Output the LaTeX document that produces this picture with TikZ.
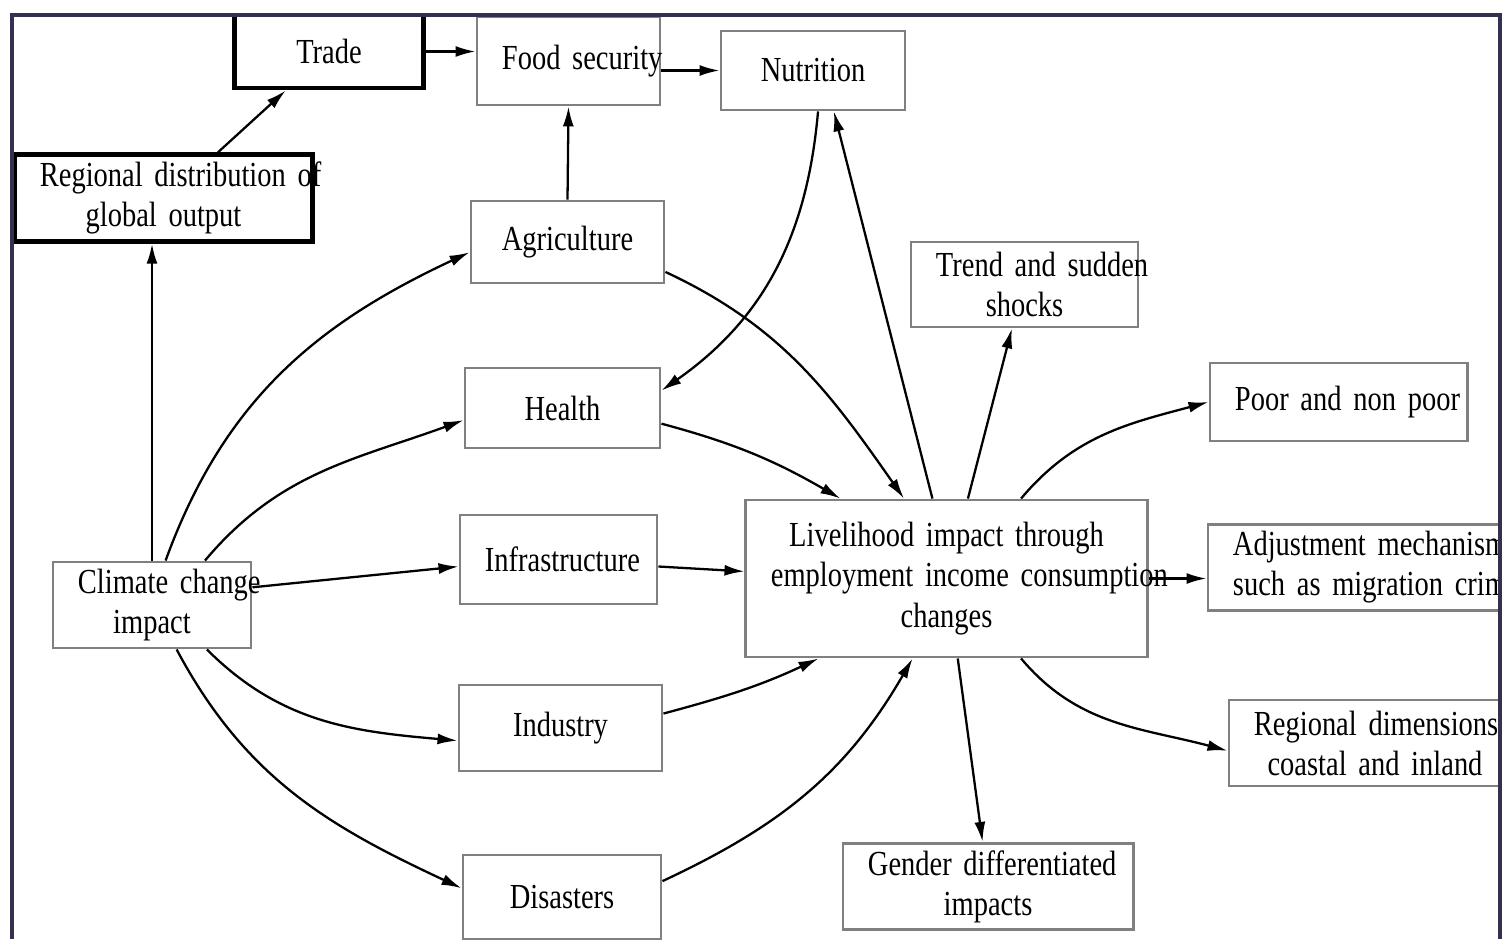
\documentclass[tikz,border=0pt]{standalone}
\usepackage{fontspec}
\setmainfont{Liberation Serif}[FakeStretch=0.81,WordSpace=0.8]
\usepackage{tikz}
\usetikzlibrary{arrows.meta}
\definecolor{boxgray}{RGB}{128,128,128}
\definecolor{framenavy}{RGB}{50,50,80}

\begin{document}
\begin{tikzpicture}[x=0.01cm,y=0.01cm,>={Latex[length=2mm,width=1.1mm]},
  box/.style={draw=boxgray,line width=0.8pt,fill=white,inner xsep=0.25cm,inner ysep=2pt,align=center,font=\fontsize{10}{11.4}\selectfont},
  boldbox/.style={box,draw=black,line width=1.4pt},
  link/.style={->,line width=0.65pt}]
\useasboundingbox (0,0) rectangle (1504,-939);
\begin{scope}
\clip (12,-15) rectangle (1500,-939);
\node[boldbox,text width=1.38cm,minimum height=0.73cm] (trade) at (329,-51.5) {Trade};
\node[box,text width=1.33cm,minimum height=0.88cm] (food) at (568.5,-61) {\mbox{Food security}};
\node[box,text width=1.34cm,minimum height=0.79cm] (nutri) at (813,-70.5) {Nutrition};
\node[boldbox,text width=2.47cm,minimum height=0.86cm] (regdist) at (163.5,-198) {\mbox{Regional distribution of}\\global output};
\node[box,text width=1.43cm,minimum height=0.82cm] (agri) at (567.5,-242) {Agriculture};
\node[box,text width=1.45cm,minimum height=0.80cm] (health) at (562.5,-408) {Health};
\node[box,text width=1.47cm,minimum height=0.89cm] (infra) at (558.5,-559.5) {\mbox{Infrastructure}};
\node[box,text width=1.53cm,minimum height=0.86cm] (indus) at (560.5,-728) {Industry};
\node[box,text width=1.48cm,minimum height=0.84cm] (disas) at (562,-897) {Disasters};
\node[box,text width=1.48cm,minimum height=0.86cm] (clim) at (152,-605) {\mbox{Climate change}\\impact};
\node[box,text width=3.51cm,minimum height=1.57cm] (live) at (946.5,-578.5) {Livelihood impact through\\\mbox{employment income consumption}\\changes};
\node[box,text width=1.77cm,minimum height=0.85cm] (trend) at (1024.5,-284.5) {\mbox{Trend and sudden}\\shocks};
\node[box,text width=2.07cm,minimum height=0.78cm] (poor) at (1338.5,-402) {\mbox{Poor and non poor}};
\node[box,text width=2.42cm,minimum height=0.85cm] (adjust) at (1354,-567.5) {\mbox{Adjustment mechanisms}\\\mbox{such as migration crime}};
\node[box,text width=2.42cm,minimum height=0.86cm] (regdim) at (1375,-743) {\mbox{Regional dimensions}\\coastal and inland};
\node[box,text width=2.40cm,minimum height=0.83cm] (gender) at (988,-886.5) {\mbox{Gender differentiated}\\impacts};

\draw[link] (clim.north) -- (clim.north |- regdist.south);
\draw[link] (regdist.40) -- (trade.222);
\draw[link] (trade.east) -- (trade.east -| food.west);
\draw[link] (nutri.west -| food.east) -- (nutri.west);
\draw[link] (agri.north) -- (food.south);
\draw[link] (clim.73) to[out=70,in=205] (agri.186);
\draw[link] (clim.40) to[out=50,in=200] (health.187);
\draw[link] (clim.10) -- (infra.184);
\draw[link] (clim.-39) to[out=-45,in=175] (indus.187);
\draw[link] (clim.-61) to[out=-62,in=155] (disas.175);
\draw[link] (agri.-17) to[out=-25,in=125] (live.118);
\draw[link] (health.-9) to[out=-15,in=150] (live.143);
\draw[link] (infra.-4) -- (live.178);
\draw[link] (indus.8) to[out=15,in=205] (live.212);
\draw[link] (disas.9) to[out=25,in=240] (live.247);
\draw[link] (nutri.-83) to[out=-95,in=35] (health.10);
\draw[link] (live.100) -- (nutri.-63);
\draw[link] (live.75) -- (trend.254);
\draw[link] (live.47) to[out=50,in=195] (poor.west);
\draw[link] (live.east) -- (live.east -| adjust.west);
\draw[link] (live.-47) to[out=-50,in=165] (regdim.183);
\draw[link] (live.-82) -- (gender.97);
\end{scope}
\draw[framenavy,line width=0.9pt] (12,-939) -- (12,-15) -- (1500,-15) -- (1500,-939);
\end{tikzpicture}
\end{document}
